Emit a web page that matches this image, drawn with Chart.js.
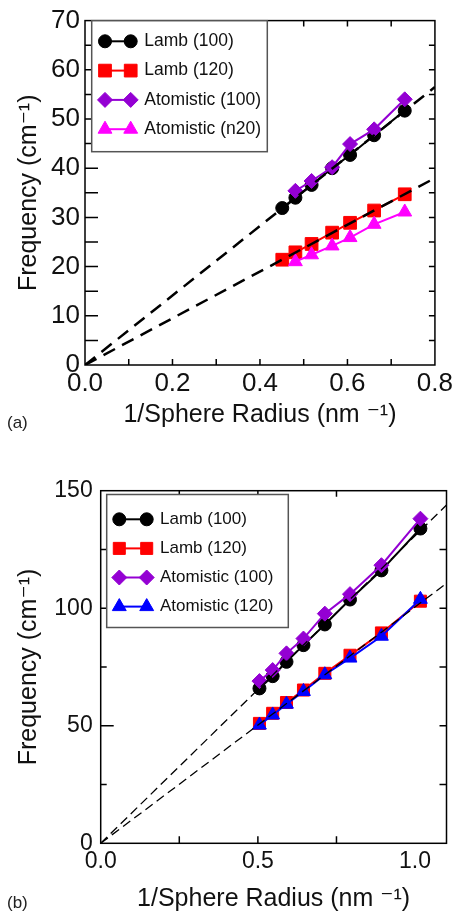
<!DOCTYPE html>
<html>
<head>
<meta charset="utf-8">
<script src="https://cdn.jsdelivr.net/npm/chart.js@4.4.1/dist/chart.umd.min.js"></script>
<style>
  body { margin: 0; background: #fff; }
  #wrap { position: relative; width: 456px; height: 916px; }
  .panel { position: absolute; left: 0; }
  .tag { position: absolute; left: 7px; font: 17px 'Liberation Sans', Arial, sans-serif; color: #222; }
</style>
</head>
<body>
<div id="wrap">
  <canvas id="chartA" class="panel" style="top:0" width="456" height="440"></canvas>
  <canvas id="chartB" class="panel" style="top:460px" width="456" height="456"></canvas>
  <div class="tag" style="top:413px">(a)</div>
  <div class="tag" style="top:893px">(b)</div>
</div>
<script>
// panel (a)
const radiusLambA = [0.451, 0.481, 0.518, 0.565, 0.606, 0.661, 0.731];
const lamb100A = [31.9, 34.0, 36.6, 40.0, 42.7, 46.7, 51.7];
const lamb120A = [21.4, 22.9, 24.6, 26.9, 28.9, 31.4, 34.7];
const radiusAtomA = [0.481, 0.518, 0.565, 0.606, 0.661, 0.731];
const atom100A = [35.4, 37.4, 40.2, 44.9, 47.9, 54.0];
const atomN20A = [21.0, 22.4, 24.2, 25.9, 28.6, 31.1];
const fitRadiusA = [0, 0.8];
const fit100A = [0, 56.5];
const fit120A = [0, 38.0];

// panel (b)
const radiusB = [0.505, 0.547, 0.591, 0.645, 0.713, 0.793, 0.893, 1.017];
const lamb100B = [65.9, 71.1, 77.2, 84.3, 93.1, 103.7, 116.1, 133.9];
const lamb120B = [51.0, 55.3, 59.9, 65.2, 72.3, 80.0, 89.5, 103.0];
const atom100B = [69.0, 73.7, 80.8, 87.1, 97.7, 106.0, 118.3, 138.1];
const atom120B = [50.3, 54.6, 59.2, 64.6, 71.7, 78.8, 88.1, 103.8];
const fitRadiusB = [0, 1.1];
const fit100B = [0, 143.9];
const fit120B = [0, 110.6];

const labelsA = ["Lamb (100)", "Lamb (120)", "Atomistic (100)", "Atomistic (n20)"];
const labelsB = ["Lamb (100)", "Lamb (120)", "Atomistic (100)", "Atomistic (120)"];

const FONT = "'Liberation Sans', Arial, 'DejaVu Sans', sans-serif";
const INK = "#111";

function pairs(xs, ys) {
    return xs.map((x, i) => ({ x: x, y: ys[i] }));
}

function series(label, xs, ys, color, style, radius, order) {
    return {
        label: label,
        data: pairs(xs, ys),
        borderColor: color,
        backgroundColor: color,
        pointBackgroundColor: color,
        pointBorderColor: color,
        pointStyle: style,
        pointRadius: radius,
        pointBorderWidth: 1,
        borderWidth: 2,
        order: order,
    };
}

function fitLine(xs, ys, width, dash) {
    return {
        data: pairs(xs, ys),
        borderColor: "#000",
        borderWidth: width,
        borderDash: dash,
        pointRadius: 0,
        order: 0,
    };
}

// frame round the plot with inward ticks on all four sides
const frameTicks = {
    id: "frameTicks",
    afterDatasetsDraw(chart, args, o) {
        const { ctx, chartArea: a, scales: { x, y } } = chart;
        ctx.save();
        ctx.strokeStyle = "#000";
        ctx.lineWidth = 1.5;
        ctx.beginPath();
        const nx = Math.round((x.max - x.min) / o.xStep);
        for (let i = 1; i < nx; i++) {
            const px = x.getPixelForValue(x.min + i * o.xStep);
            ctx.moveTo(px, a.bottom); ctx.lineTo(px, a.bottom - o.bottom);
            ctx.moveTo(px, a.top); ctx.lineTo(px, a.top + o.top);
        }
        const ny = Math.round((y.max - y.min) / o.yStep);
        for (let i = 1; i < ny; i++) {
            const py = y.getPixelForValue(y.min + i * o.yStep);
            const len = i % o.yMajorEvery === 0 ? o.left : o.leftMinor;
            ctx.moveTo(a.left, py); ctx.lineTo(a.left + len, py);
            ctx.moveTo(a.right, py); ctx.lineTo(a.right - o.right, py);
        }
        ctx.stroke();
        ctx.strokeRect(a.left, a.top, a.right - a.left, a.bottom - a.top);
        ctx.restore();
    }
};

// boxed legend inside the plot, line with a marker at each end
const boxLegend = {
    id: "boxLegend",
    afterDraw(chart, args, o) {
        const ctx = chart.ctx;
        const items = chart.data.datasets.filter(d => d.label);
        ctx.save();
        ctx.fillStyle = "#fff";
        ctx.fillRect(o.left, o.top, o.width, o.height);
        ctx.strokeStyle = "#555";
        ctx.lineWidth = 1.5;
        ctx.strokeRect(o.left, o.top, o.width, o.height);
        items.forEach((ds, i) => {
            const cy = o.firstRow + i * o.rowGap;
            ctx.strokeStyle = ds.borderColor;
            ctx.lineWidth = ds.borderWidth;
            ctx.beginPath();
            ctx.moveTo(o.x0, cy);
            ctx.lineTo(o.x1, cy);
            ctx.stroke();
            ctx.fillStyle = ds.pointBackgroundColor;
            ctx.lineWidth = 1;
            [o.x0, o.x1].forEach(px => {
                Chart.helpers.drawPoint(ctx, { pointStyle: ds.pointStyle, radius: ds.pointRadius, borderWidth: 1, rotation: 0 }, px, cy);
            });
            ctx.fillStyle = INK;
            ctx.font = o.fontSize + "px " + FONT;
            ctx.textBaseline = "middle";
            ctx.textAlign = "left";
            ctx.fillText(ds.label, o.textX, cy);
        });
        ctx.restore();
    }
};

function makeOptions(p) {
    return {
        responsive: false,
        animation: false,
        layout: { padding: p.padding },
        scales: {
            x: {
                type: "linear", min: p.xMin, max: p.xMax,
                afterFit: s => { s.height = p.xAxisHeight; },
                grid: { display: false, drawTicks: false },
                border: { display: false },
                ticks: {
                    stepSize: p.xLabelStep, includeBounds: false, autoSkip: false, maxRotation: 0,
                    padding: p.xTickPad, color: INK, font: { family: FONT, size: p.xTickFont },
                    callback: v => v.toFixed(1),
                },
                title: {
                    display: true, text: "1/Sphere Radius (nm \u207B\u00B9)", color: INK,
                    font: { family: FONT, size: 25 }, padding: { top: 0, bottom: p.xTitlePad },
                },
            },
            y: {
                type: "linear", min: p.yMin, max: p.yMax,
                afterFit: s => { s.width = p.yAxisWidth; },
                grid: { display: false, drawTicks: false },
                border: { display: false },
                ticks: {
                    stepSize: p.yLabelStep, includeBounds: false, autoSkip: false,
                    padding: p.yTickPad, color: INK, font: { family: FONT, size: p.yTickFont },
                },
                title: {
                    display: true, text: "Frequency (cm\u207B\u00B9)", color: INK,
                    font: { family: FONT, size: 25 }, padding: { top: 14, bottom: 0 },
                },
            },
        },
        plugins: {
            legend: { display: false },
            tooltip: { enabled: false },
            frameTicks: p.ticks,
            boxLegend: p.legend,
        },
    };
}

new Chart(document.getElementById("chartA"), {
    type: "line",
    data: {
        datasets: [
            fitLine(fitRadiusA, fit100A, 2.5, [13, 8]),
            fitLine(fitRadiusA, fit120A, 2.5, [13, 8]),
            series(labelsA[0], radiusLambA, lamb100A, "#000000", "circle", 6.5, 2),
            series(labelsA[1], radiusLambA, lamb120A, "#ff0000", "rect", 9, 2),
            series(labelsA[2], radiusAtomA, atom100A, "#9400d3", "rectRot", 7.5, 1),
            series(labelsA[3], radiusAtomA, atomN20A, "#ff00ff", "triangle", 8, 1),
        ],
    },
    options: makeOptions({
        padding: { left: 0, right: 19, top: 14, bottom: 0 },
        xMin: 0, xMax: 0.8, xLabelStep: 0.2, xAxisHeight: 75, xTickPad: 3, xTickFont: 26, xTitlePad: 10,
        yMin: 0, yMax: 70, yLabelStep: 10, yAxisWidth: 85, yTickPad: 5, yTickFont: 26,
        ticks: { xStep: 0.1, yStep: 5, yMajorEvery: 1, left: 13, leftMinor: 13, right: 6, top: 6, bottom: 6 },
        legend: { left: 91.7, top: 20.7, width: 175.6, height: 131, firstRow: 41.3, rowGap: 29.3,
                  x0: 105, x1: 130.7, textX: 144.3, fontSize: 17.5 },
    }),
    plugins: [frameTicks, boxLegend],
});

new Chart(document.getElementById("chartB"), {
    type: "line",
    data: {
        datasets: [
            fitLine(fitRadiusB, fit100B, 1.3, [9, 5]),
            fitLine(fitRadiusB, fit120B, 1.3, [9, 5]),
            series(labelsB[0], radiusB, lamb100B, "#000000", "circle", 6.5, 2),
            series(labelsB[1], radiusB, lamb120B, "#ff0000", "rect", 8.5, 2),
            series(labelsB[2], radiusB, atom100B, "#9400d3", "rectRot", 7.5, 1),
            series(labelsB[3], radiusB, atom120B, "#0000ff", "triangle", 8, 1),
        ],
    },
    options: makeOptions({
        padding: { left: 0, right: 2.7, top: 30.7, bottom: 0 },
        xMin: 0, xMax: 1.1, xLabelStep: 0.5, xAxisHeight: 72.7, xTickPad: 4.5, xTickFont: 23, xTitlePad: 2,
        yMin: 0, yMax: 150, yLabelStep: 50, yAxisWidth: 100.7, yTickPad: 8, yTickFont: 23,
        ticks: { xStep: 0.25, yStep: 25, yMajorEvery: 2, left: 13, leftMinor: 6, right: 7, top: 6, bottom: 7 },
        legend: { left: 106.7, top: 34.5, width: 181.6, height: 133, firstRow: 59.3, rowGap: 29.1,
                  x0: 119.3, x1: 146.7, textX: 160, fontSize: 17 },
    }),
    plugins: [frameTicks, boxLegend],
});
</script>
</body>
</html>
